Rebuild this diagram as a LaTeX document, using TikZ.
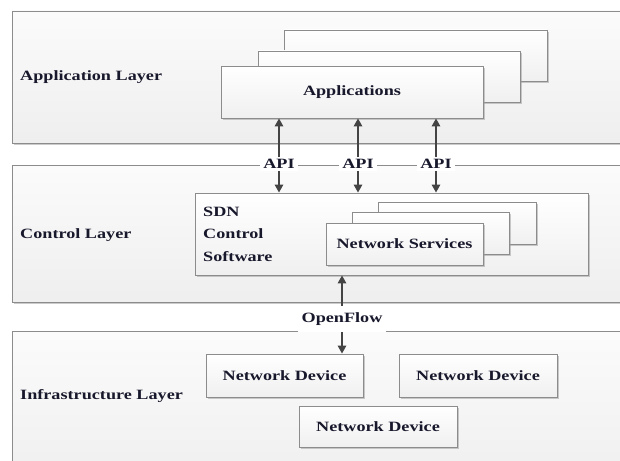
\documentclass[tikz,border=0pt]{standalone}
\usepackage{fontspec}
\setmainfont{Liberation Serif}[FakeStretch=1.28]
\usetikzlibrary{shadows,arrows.meta}
\definecolor{txt}{RGB}{24,24,44}
\definecolor{bord}{RGB}{140,140,140}
\definecolor{arrc}{RGB}{68,68,68}
\begin{document}
\begin{tikzpicture}[x=1pt,y=-1pt,
  every node/.style={font=\fontsize{14.2}{22.5}\selectfont\bfseries, text=txt},
  layer/.style={draw=bord, line width=0.9pt, top color=gray!3, bottom color=gray!13,
    inner sep=0pt, drop shadow={shadow xshift=1.5pt, shadow yshift=-1.8pt, fill=black!40}},
  box/.style={draw=bord, line width=0.9pt, top color=white, bottom color=gray!12,
    inner sep=0pt, drop shadow={shadow xshift=1.5pt, shadow yshift=-1.8pt, fill=black!40}},
  lbl/.style={fill=white, inner xsep=3pt, inner ysep=2pt},
  arr/.style={draw=arrc, line width=1.6pt, -{Triangle[length=8pt,width=8.5pt]}}
]
\useasboundingbox (0,0) rectangle (620,460);
\clip (0,0) rectangle (620,460);
\fill[white] (0,0) rectangle (620,460);
% layers
\node[layer, minimum width=648pt, minimum height=132pt] (applayer) at (336,77) {};
\node[layer, minimum width=648pt, minimum height=137pt] (ctrllayer) at (336,233.5) {};
\node[layer, minimum width=648pt, minimum height=159pt] (infralayer) at (336,410.5) {};
\node[anchor=west, inner xsep=0pt] (applbl) at (20,77) {Application Layer};
\node[anchor=west, inner xsep=0pt] (ctrllbl) at (20,235) {Control Layer};
\node[anchor=west, inner xsep=0pt] (infralbl) at (20,396) {Infrastructure Layer};
% applications stack
\node[box, minimum width=263pt, minimum height=51pt] (app3) at (415.5,55.5) {};
\node[box, minimum width=262pt, minimum height=51pt] (app2) at (389,76.5) {};
\node[box, minimum width=262pt, minimum height=52pt] (app1) at (352,92) {Applications};
% SDN control software
\node[box, minimum width=393pt, minimum height=82pt] (sdn) at (391.5,234) {};
\node[anchor=west, align=left, inner xsep=0pt] (sdntxt) at (203,234) {SDN\\Control\\Software};
\node[box, minimum width=158pt, minimum height=42pt] (ns3) at (457,223) {};
\node[box, minimum width=157pt, minimum height=42pt] (ns2) at (430.5,233) {};
\node[box, minimum width=157pt, minimum height=42pt] (ns1) at (404.5,244) {Network Services};
% network devices
\node[box, minimum width=157pt, minimum height=43pt] (nd1) at (284.5,375.5) {Network Device};
\node[box, minimum width=158pt, minimum height=43pt] (nd2) at (478,375.5) {Network Device};
\node[box, minimum width=158pt, minimum height=41pt] (nd3) at (378,426.5) {Network Device};
% API labels and arrows
\node[lbl] (api1) at (279,164) {API};
\node[lbl] (api2) at (358,164) {API};
\node[lbl] (api3) at (436,164) {API};
\foreach \a in {api1,api2,api3}{
  \draw[arr] (\a) -- (app1.south -| \a);
  \draw[arr] (\a) -- (sdn.north -| \a);
}
% OpenFlow
\node[lbl, inner xsep=4pt, minimum height=26pt] (of) at (342,319) {OpenFlow};
\draw[arr] (of) -- (sdn.south -| of);
\draw[arr] (of) -- (nd1.north -| of);
\end{tikzpicture}
\end{document}
